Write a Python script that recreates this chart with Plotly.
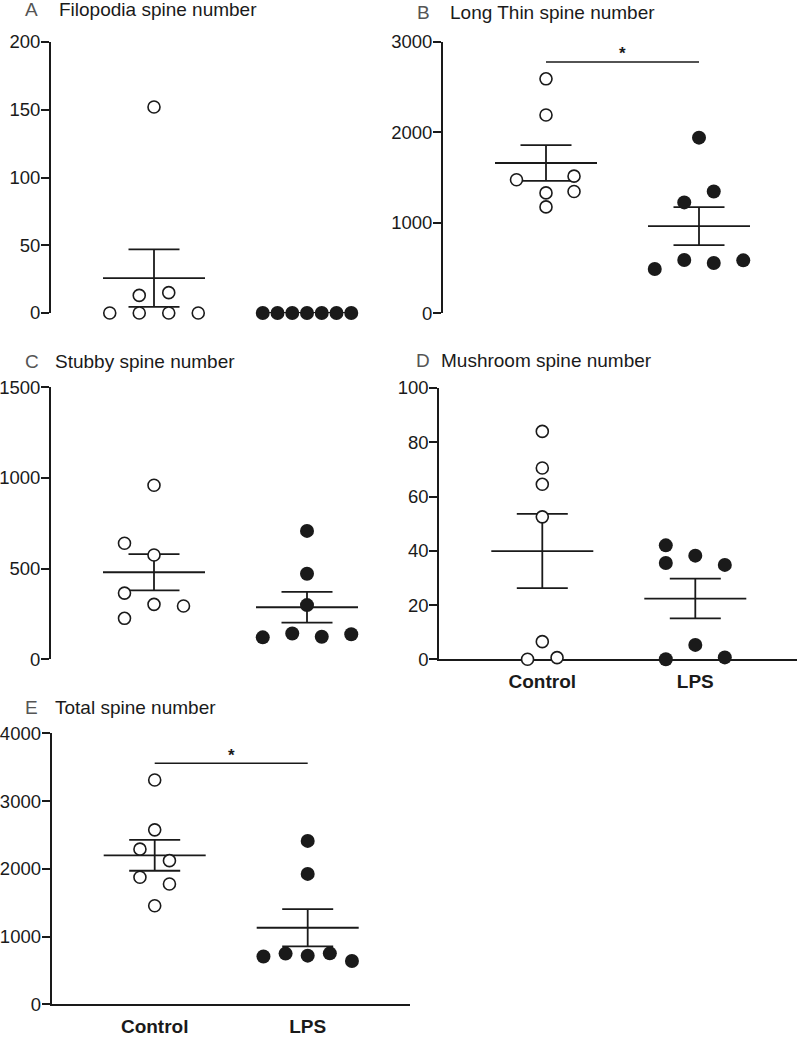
import plotly.graph_objects as go

W, H = 797, 1037
groups = ["Control", "LPS"]

panel_letters = ["A", "B", "C", "D", "E"]
panel_titles = ["Filopodia spine number", "Long Thin spine number",
                "Stubby spine number", "Mushroom spine number", "Total spine number"]

# ---- data ----
filo_control = [0, 0, 0, 0, 13, 15, 152]
filo_lps = [0, 0, 0, 0, 0, 0, 0]
filo_mean = [25.7, 0]
filo_sem = [21.2, 0]

thin_control = [2590, 2190, 1475, 1515, 1345, 1330, 1175]
thin_lps = [1940, 1345, 1225, 490, 588, 556, 585]
thin_mean = [1660, 962]
thin_sem = [198, 210]

stubby_control = [960, 640, 575, 365, 303, 294, 226]
stubby_lps = [708, 472, 299, 121, 142, 124, 138]
stubby_mean = [480, 287]
stubby_sem = [100, 85]

mush_control = [84, 70.5, 64.5, 52.5, 6.5, 0, 0.6]
mush_lps = [42, 35.5, 38.2, 34.8, 5.3, 0, 0.7]
mush_mean = [39.9, 22.4]
mush_sem = [13.7, 7.3]

total_control = [3310, 2575, 2290, 2120, 1875, 1775, 1455]
total_lps = [2412, 1925, 705, 748, 718, 752, 640]
total_mean = [2199, 1130]
total_sem = [228, 276]

# significance bars (value of bar) for panels with a star
thin_sig = 2776
total_sig = 3557

y_ticks = [
    [0, 50, 100, 150, 200],
    [0, 1000, 2000, 3000],
    [0, 500, 1000, 1500],
    [0, 20, 40, 60, 80, 100],
    [0, 1000, 2000, 3000, 4000],
]

# ---- dot layout (horizontal slot of each dot, in dot-widths) ----
filo_control_slot = [-1.5, -0.5, 0.5, 1.5, -0.5, 0.5, 0]
filo_lps_slot = [-1.5, -1, -0.5, 0, 0.5, 1, 1.5]
thin_control_slot = [0, 0, -1, 0.95, 0.95, 0, 0]
thin_lps_slot = [0, 0.5, -0.5, -1.5, -0.5, 0.5, 1.5]
stubby_control_slot = [0, -1, 0, -1, 0, 1, -1]
stubby_lps_slot = [0, 0, 0, -1.5, -0.5, 0.5, 1.5]
mush_control_slot = [0, 0, 0, 0, 0, -0.5, 0.5]
mush_lps_slot = [-1, -1, 0, 1, 0, -1, 1]
total_control_slot = [0, 0, -0.5, 0.5, -0.5, 0.5, 0]
total_lps_slot = [0, 0, -1.5, -0.75, 0, 0.75, 1.5]

panels = [
    dict(ctrl=filo_control, lps=filo_lps, cs=filo_control_slot, ls=filo_lps_slot,
         mean=filo_mean, sem=filo_sem, sig=None),
    dict(ctrl=thin_control, lps=thin_lps, cs=thin_control_slot, ls=thin_lps_slot,
         mean=thin_mean, sem=thin_sem, sig=thin_sig),
    dict(ctrl=stubby_control, lps=stubby_lps, cs=stubby_control_slot, ls=stubby_lps_slot,
         mean=stubby_mean, sem=stubby_sem, sig=None),
    dict(ctrl=mush_control, lps=mush_lps, cs=mush_control_slot, ls=mush_lps_slot,
         mean=mush_mean, sem=mush_sem, sig=None),
    dict(ctrl=total_control, lps=total_lps, cs=total_control_slot, ls=total_lps_slot,
         mean=total_mean, sem=total_sem, sig=total_sig),
]

# ---- layout geometry (pixels) ----
geom = [
    dict(x0=51, right=409, top=42, bottom=313, xaxis=False),
    dict(x0=443, right=797, top=41.7, bottom=313.3, xaxis=False),
    dict(x0=51, right=409, top=387.3, bottom=659.3, xaxis=False),
    dict(x0=439.3, right=797, top=388, bottom=659.3, xaxis=True),
    dict(x0=51.7, right=410, top=733.3, bottom=1004.3, xaxis=True),
]
title_pos = [
    dict(lx=23, tx=57, y=10),
    dict(lx=415, tx=448, y=12),
    dict(lx=23, tx=53, y=361),
    dict(lx=414, tx=439, y=360),
    dict(lx=23, tx=53, y=707),
]

CAT_OFF = 103.0   # px from y axis to first category
CAT_STEP = 153.0  # px between categories
JIT = 29.5 / CAT_STEP
MEAN_HW = 51 / CAT_STEP
CAP_HW = 25.5 / CAT_STEP

INK = "#1a1a1a"
FONT = "Arial, Liberation Sans, Helvetica, sans-serif"

fig = go.Figure()
layout = dict(
    template="none",
    width=W, height=H, margin=dict(l=0, r=0, t=0, b=0, pad=0, autoexpand=False),
    paper_bgcolor="white", plot_bgcolor="white", showlegend=False,
    font=dict(family=FONT, color=INK, size=19),
)
annotations = []

for i, (p, g) in enumerate(zip(panels, geom)):
    n = "" if i == 0 else str(i + 1)
    xa, ya = "x" + n, "y" + n
    # error bars (mean ± SEM)
    for k in range(2):
        m, s = p["mean"][k], p["sem"][k]
        fig.add_trace(go.Scatter(
            x=[k - MEAN_HW, k + MEAN_HW], y=[m, m], mode="lines",
            line=dict(color=INK, width=1.8), xaxis=xa, yaxis=ya, hoverinfo="skip"))
        if s > 0:
            fig.add_trace(go.Scatter(
                x=[k - CAP_HW, k + CAP_HW, None, k, k, None, k - CAP_HW, k + CAP_HW],
                y=[m + s, m + s, None, m + s, m - s, None, m - s, m - s],
                mode="lines", line=dict(color=INK, width=1.8),
                xaxis=xa, yaxis=ya, hoverinfo="skip"))
    # significance bar
    if p["sig"] is not None:
        fig.add_trace(go.Scatter(
            x=[0, 1], y=[p["sig"], p["sig"]], mode="lines",
            line=dict(color=INK, width=1.6), xaxis=xa, yaxis=ya, hoverinfo="skip"))
        annotations.append(dict(
            x=0.5, y=p["sig"], xref=xa, yref=ya, text="<b>*</b>", showarrow=False,
            yanchor="middle", yshift=8, font=dict(size=17, color=INK, family=FONT)))
    # dots
    fig.add_trace(go.Scatter(
        x=[0 + s * JIT for s in p["cs"]], y=p["ctrl"], mode="markers",
        marker=dict(size=12, color="white", line=dict(color=INK, width=1.6)),
        xaxis=xa, yaxis=ya, cliponaxis=False, name="Control"))
    fig.add_trace(go.Scatter(
        x=[1 + s * JIT for s in p["ls"]], y=p["lps"], mode="markers",
        marker=dict(size=14, color=INK, line=dict(width=0)),
        xaxis=xa, yaxis=ya, cliponaxis=False, name="LPS"))

    ticks = y_ticks[i]
    width_px = g["right"] - g["x0"]
    xr = [-CAT_OFF / CAT_STEP, (width_px - CAT_OFF) / CAT_STEP]
    xkey = "xaxis" + n
    ykey = "yaxis" + n
    layout[xkey] = dict(
        domain=[g["x0"] / W, g["right"] / W], range=xr, anchor=ya,
        automargin=False,
        showgrid=False, zeroline=False, fixedrange=True,
        showline=g["xaxis"], linecolor=INK, linewidth=2,
        ticks="", tickmode="array",
        tickvals=[0, 1] if g["xaxis"] else [], ticktext=groups if g["xaxis"] else [],
        showticklabels=g["xaxis"], ticklabelstandoff=4,
        tickfont=dict(size=19, family=FONT, color=INK, weight="bold"),
        layer="below traces",
    )
    layout[ykey] = dict(
        domain=[1 - g["bottom"] / H, 1 - g["top"] / H], range=[0, ticks[-1]],
        anchor=xa, automargin=False, showgrid=False, zeroline=False, fixedrange=True,
        showline=True, linecolor=INK, linewidth=2,
        ticks="outside", ticklen=8, tickwidth=2, tickcolor=INK,
        tickmode="array", tickvals=ticks, ticktext=[str(t) for t in ticks],
        tickfont=dict(size=18.5, family=FONT, color=INK),
        ticklabelstandoff=-3,
        layer="below traces",
    )

for i, t in enumerate(title_pos):
    annotations.append(dict(
        x=t["lx"] / W, y=1 - t["y"] / H, xref="paper", yref="paper",
        text=panel_letters[i], showarrow=False, xanchor="left", yanchor="middle",
        font=dict(size=19, color="#555555", family=FONT)))
    annotations.append(dict(
        x=t["tx"] / W, y=1 - t["y"] / H, xref="paper", yref="paper",
        text=panel_titles[i], showarrow=False, xanchor="left", yanchor="middle",
        font=dict(size=19, color=INK, family=FONT)))

layout["annotations"] = annotations
fig.update_layout(**layout)
fig.write_html("out.html", config={"displayModeBar": False, "staticPlot": True},
               post_script="document.body.style.margin='0';document.body.style.overflow='hidden';")
